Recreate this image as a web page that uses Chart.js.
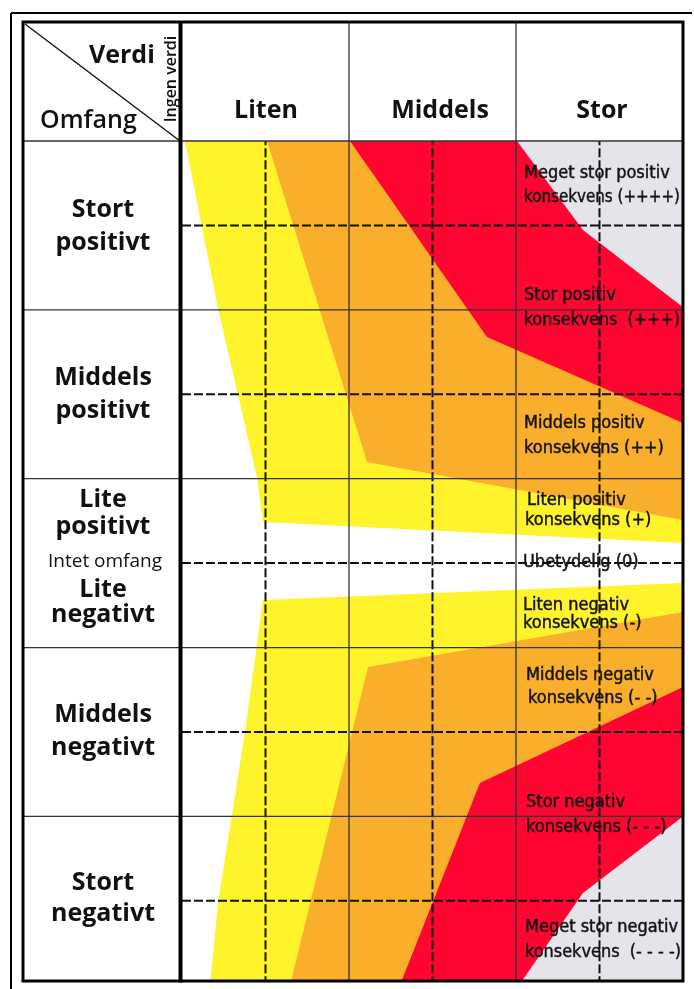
<!DOCTYPE html>
<html>
<head>
<meta charset="utf-8">
<script src="https://cdn.jsdelivr.net/npm/chart.js@4.4.1/dist/chart.umd.min.js"></script>
<style>
  html, body { margin: 0; padding: 0; background: #ffffff; }
  canvas { display: block; }
</style>
</head>
<body>
<canvas id="c" width="694" height="989" style="width:694px;height:989px"></canvas>
<script>
// ---------- DATA ----------
// x axis = Verdi (0..3): Liten, Middels, Stor ; y axis = Omfang (+5 top .. -5 bottom)
const verdiKategorier = ['Liten', 'Middels', 'Stor'];
const omfangKategorier = [
  ['Stort', 'positivt'], ['Middels', 'positivt'], ['Lite', 'positivt'],
  ['Lite', 'negativt'], ['Middels', 'negativt'], ['Stort', 'negativt']
];
const nullOmfang = 'Intet omfang';
const hjorneVerdi = 'Verdi';
const hjorneOmfang = 'Omfang';
const ingenVerdi = 'Ingen verdi';
const konsekvensTekster = [
  ['Meget stor positiv', 'konsekvens (++++)'],
  ['Stor positiv', 'konsekvens  (+++)'],
  ['Middels positiv', 'konsekvens (++)'],
  ['Liten positiv', 'konsekvens (+)'],
  ['Ubetydelig (0)'],
  ['Liten negativ', 'konsekvens (-)'],
  ['Middels negativ', 'konsekvens (- -)'],
  ['Stor negativ', 'konsekvens (- - -)'],
  ['Meget stor negativ', 'konsekvens  (- - - -)']
];

// Boundary lines of the coloured zones [verdi, omfang]
const gulOvre     = [[0.018, 5], [0.216, 3.010], [0.449, 1.020], [0.485, 0.487], [3, 0.238]];
const oransjeOvre = [[0.509, 5], [1.108, 1.198], [3, 0.510]];
const rodOvre     = [[1.006, 5], [1.826, 2.678], [3, 1.660]];
const graOvre     = [[2.006, 5], [2.401, 3.946], [3, 3.030]];
const gulNedre     = [[0.168, -5], [0.216, -4.015], [0.299, -2.984], [0.377, -2.001], [0.485, -0.437], [3, -0.236]];
const oransjeNedre = [[0.647, -5], [1.114, -1.231], [3, -0.580]];
const rodNedre     = [[1.305, -5], [1.784, -2.605], [3, -1.468]];
const graNedre     = [[2.018, -5], [2.401, -3.908], [3, -3.000]];

// Grid lines
const stipletX = [0.5, 1.5, 2.5];
const stipletY = [4, 2, 0, -2, -4];
const heltrukketX = [1, 2];
const heltrukketY = [3, 1, -1, -3];

// ---------- LAYOUT / STYLE ----------
const FARGE = { gul: '#fff32c', oransje: '#f9ae2c', rod: '#ff0532', gra: '#e6e4eb' };
const LABEL_FONT = "700 25px 'Open Sans', 'Noto Sans', sans-serif";
const KONS_FONT = "18px 'DejaVu Sans Condensed', 'DejaVu Sans', sans-serif";
const radLayout = [
  { cx: 103, y: [217, 250] }, { cx: 103, y: [385, 418] }, { cx: 103, y: [507, 534] },
  { cx: 103, y: [597, 622] }, { cx: 103, y: [722, 755] }, { cx: 103, y: [890, 921] }
];
const nullLayout = { cx: 105, y: 567 };
const kolonneLayout = [{ x: 266, y: 118 }, { x: 440, y: 118 }, { x: 602, y: 118 }];
const konsLayout = [
  [[524, 178], [524, 202]], [[524, 300], [524, 325]], [[524, 428], [524, 453]],
  [[527, 505], [525, 525]], [[523, 567]], [[523, 610], [523, 628]],
  [[526, 680], [528, 703]], [[526, 807], [526, 832]], [[525, 932], [525, 957]]
];

function pts(arr) { return arr.map(([x, y]) => ({ x, y })); }
function sone(label, arr, color, fill, order) {
  return { label, data: pts(arr), backgroundColor: color, borderColor: 'rgba(0,0,0,0)',
    borderWidth: 0, fill, order, pointRadius: 0, tension: 0 };
}
function linje(label, arr, dash, width, color) {
  return { label, rolle: 'rutenett', data: pts(arr), borderColor: color, borderWidth: width,
    borderDash: dash, fill: false, order: 0, pointRadius: 0, tension: 0, borderCapStyle: 'butt' };
}

const datasets = [
  sone('Gul øvre', gulOvre, FARGE.gul, 'end', 4),
  sone('Gul nedre', gulNedre, FARGE.gul, 'start', 4),
  sone('Oransje øvre', oransjeOvre, FARGE.oransje, 'end', 3),
  sone('Oransje nedre', oransjeNedre, FARGE.oransje, 'start', 3),
  sone('Rød øvre', rodOvre, FARGE.rod, 'end', 2),
  sone('Rød nedre', rodNedre, FARGE.rod, 'start', 2),
  sone('Grå øvre', graOvre, FARGE.gra, 'end', 1),
  sone('Grå nedre', graNedre, FARGE.gra, 'start', 1)
];
heltrukketX.forEach(v => datasets.push(linje('kol ' + v, [[v, -5], [v, 5]], [], 1.3, '#333333')));
heltrukketY.forEach(v => datasets.push(linje('rad ' + v, [[0, v], [3, v]], [], 1.3, '#333333')));
stipletX.forEach(v => datasets.push(linje('stiplet x ' + v, [[v, -5], [v, 5]], [9, 3], 2, '#111111')));
stipletY.forEach(v => datasets.push(linje('stiplet y ' + v, [[0, v], [3, v]], [9, 3], 2, '#111111')));

function tegnKonsekvenser(chart) {
  const ctx = chart.ctx;
  ctx.save();
  ctx.font = KONS_FONT;
  ctx.fillStyle = '#141414';
  ctx.strokeStyle = '#141414';
  ctx.lineWidth = 0.45;
  ctx.textAlign = 'left';
  ctx.textBaseline = 'alphabetic';
  konsekvensTekster.forEach((linjer, i) => {
    linjer.forEach((t, j) => {
      const [x, y] = konsLayout[i][j];
      ctx.fillText(t, x, y, 156);
      ctx.strokeText(t, x, y, 156);
    });
  });
  ctx.restore();
}

const rammePlugin = {
  id: 'ramme',
  beforeDatasetsDraw(chart) { chart.$tekstTegnet = false; },
  beforeDatasetDraw(chart, args) {
    const ds = chart.data.datasets[args.index];
    if (!chart.$tekstTegnet && ds.rolle === 'rutenett') {
      tegnKonsekvenser(chart);
      chart.$tekstTegnet = true;
    }
  },
  afterDraw(chart) {
    const ctx = chart.ctx, xs = chart.scales.x, ys = chart.scales.y;
    const L = 23, T = 22, R = xs.getPixelForValue(3), B = chart.chartArea.bottom;
    const ln = (x1, y1, x2, y2) => { ctx.beginPath(); ctx.moveTo(x1, y1); ctx.lineTo(x2, y2); ctx.stroke(); };
    ctx.save();
    // outer thin frame (top + left)
    ctx.strokeStyle = '#000'; ctx.lineWidth = 2;
    ln(11, 13, 692, 13); ln(11, 13, 11, 989);
    // header bottom, header column lines, label column row lines
    ctx.strokeStyle = '#333'; ctx.lineWidth = 1.3;
    ln(L, chart.chartArea.top, R, chart.chartArea.top);
    heltrukketX.forEach(v => { const x = xs.getPixelForValue(v); ln(x, T, x, chart.chartArea.top); });
    heltrukketY.forEach(v => { const y = ys.getPixelForValue(v); ln(L, y, 182, y); });
    // diagonal
    ctx.strokeStyle = '#111'; ctx.lineWidth = 1.4;
    ln(25, 24, 180, 141);
    // thick frames
    ctx.strokeStyle = '#000'; ctx.lineWidth = 3;
    ctx.strokeRect(L, T, R - L, B - T);
    ctx.lineWidth = 4;
    ln(180.5, T, 180.5, B + 1.5);

    // texts
    ctx.fillStyle = '#111';
    ctx.textBaseline = 'alphabetic';
    ctx.font = LABEL_FONT;
    ctx.textAlign = 'center';
    verdiKategorier.forEach((t, i) => ctx.fillText(t, kolonneLayout[i].x, kolonneLayout[i].y));
    omfangKategorier.forEach((linjer, i) => {
      linjer.forEach((t, j) => ctx.fillText(t, radLayout[i].cx, radLayout[i].y[j]));
    });
    ctx.textAlign = 'left';
    ctx.fillText(hjorneVerdi, 89, 63);
    ctx.font = "600 25px 'Open Sans', 'Noto Sans', sans-serif";
    ctx.fillText(hjorneOmfang, 40, 128);
    ctx.font = "500 19px 'Open Sans', 'Noto Sans', sans-serif";
    ctx.textAlign = 'center';
    ctx.fillText(nullOmfang, nullLayout.cx, nullLayout.y);
    // rotated "Ingen verdi"
    ctx.save();
    ctx.translate(176, 79);
    ctx.rotate(-Math.PI / 2);
    ctx.font = "600 16px 'Open Sans', 'Noto Sans', sans-serif";
    ctx.textAlign = 'center';
    ctx.fillText(ingenVerdi, 0, 0);
    ctx.restore();
    ctx.restore();
  }
};

new Chart(document.getElementById('c'), {
  type: 'line',
  data: { datasets },
  options: {
    responsive: false,
    animation: false,
    devicePixelRatio: 1,
    layout: { padding: { left: 182, top: 141, right: 11, bottom: 8 } },
    scales: {
      x: { type: 'linear', min: 0, max: 3, display: false },
      y: { type: 'linear', min: -4.95, max: 5, display: false }
    },
    plugins: { legend: { display: false }, tooltip: { enabled: false } },
    elements: { point: { radius: 0 } }
  },
  plugins: [rammePlugin]
});
</script>
</body>
</html>
